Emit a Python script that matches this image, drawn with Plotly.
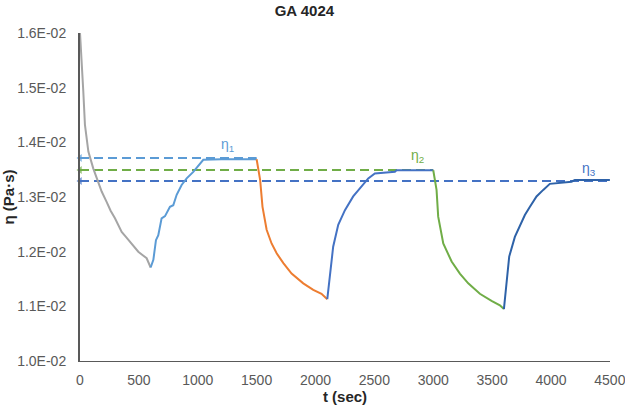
import plotly.graph_objects as go

# Segment data (t in sec, eta in Pa·s)
t_grey = [0, 14, 28, 42, 71, 113, 156, 184, 226, 260, 297, 330, 354, 390, 425, 460, 495, 530, 566, 600]
eta_grey = [0.01600, 0.01554, 0.01493, 0.01432, 0.01383, 0.01352, 0.01328, 0.01310, 0.01291, 0.01275,
            0.01261, 0.01248, 0.01236, 0.01227, 0.01218, 0.01209, 0.01200, 0.01194, 0.01188, 0.01171]

t_lblue = [600, 623, 645, 665, 693, 722, 764, 792, 821, 863, 906, 962, 1047, 1200, 1500]
eta_lblue = [0.01171, 0.01185, 0.01221, 0.01230, 0.01261, 0.01265, 0.01282, 0.01285, 0.01304, 0.01322,
             0.01334, 0.01346, 0.01368, 0.01369, 0.01369]

t_orange = [1500, 1530, 1550, 1585, 1627, 1670, 1727, 1797, 1896, 1981, 2051, 2100]
eta_orange = [0.01369, 0.01331, 0.01282, 0.01240, 0.01215, 0.01197, 0.01179, 0.01160, 0.01142, 0.01130,
              0.01123, 0.01113]

t_blue1 = [2100, 2122, 2150, 2193, 2250, 2320, 2391, 2448, 2504, 2674, 2688, 2850, 3000]
eta_blue1 = [0.01113, 0.01160, 0.01209, 0.01249, 0.01276, 0.01301, 0.01319, 0.01334, 0.01343, 0.01346,
             0.01349, 0.01349, 0.01349]

t_green = [3000, 3028, 3042, 3085, 3156, 3226, 3297, 3396, 3495, 3566, 3600]
eta_green = [0.01349, 0.01313, 0.01264, 0.01215, 0.01182, 0.01160, 0.01142, 0.01123, 0.01110, 0.01102,
             0.01095]

t_blue2 = [3600, 3622, 3645, 3693, 3736, 3778, 3821, 3877, 3934, 3990, 4174, 4202, 4350, 4500]
eta_blue2 = [0.01095, 0.01148, 0.01191, 0.01227, 0.01246, 0.01267, 0.01282, 0.01301, 0.01313, 0.01324,
             0.01328, 0.01331, 0.01331, 0.01331]

# Reference levels
eta_levels = [0.013713, 0.013495, 0.013294]
level_ends = [1500, 3000, 4500]
level_labels = ["η<sub>1</sub>", "η<sub>2</sub>", "η<sub>3</sub>"]
label_t = [1250, 2870, 4320]
label_eta = [0.01395, 0.01375, 0.01351]

y_ticks = [0.010, 0.011, 0.012, 0.013, 0.014, 0.015, 0.016]
y_ticktext = ["1.0E-02", "1.1E-02", "1.2E-02", "1.3E-02", "1.4E-02", "1.5E-02", "1.6E-02"]
x_ticks = [0, 500, 1000, 1500, 2000, 2500, 3000, 3500, 4000, 4500]

level_colors = ["#5B9BD5", "#70AD47", "#4472C4"]
FONT = "Liberation Sans, Arial, sans-serif"

fig = go.Figure()

for i in range(3):
    fig.add_trace(go.Scatter(x=[0, level_ends[i]], y=[eta_levels[i]] * 2, mode="lines+markers",
                             line=dict(color=level_colors[i], width=2, dash="9px,5px"),
                             marker=dict(symbol="triangle-left", size=[7, 0], color=level_colors[i],
                                         line=dict(width=0)),
                             cliponaxis=False,
                             hoverinfo="skip", showlegend=False))

segments = [
    (t_grey, eta_grey, "#A5A5A5"),
    (t_lblue, eta_lblue, "#5B9BD5"),
    (t_orange, eta_orange, "#ED7D31"),
    (t_blue1, eta_blue1, "#4472C4"),
    (t_green, eta_green, "#70AD47"),
    (t_blue2, eta_blue2, "#2E62A8"),
]
for tx, ey, c in segments:
    fig.add_trace(go.Scatter(x=tx, y=ey, mode="lines", line=dict(color=c, width=2),
                             showlegend=False))

annotations = []
for i in range(3):
    annotations.append(dict(x=label_t[i], y=label_eta[i], xref="x", yref="y", showarrow=False,
                            text=level_labels[i],
                            font=dict(family=FONT, size=14, color=level_colors[i])))

fig.update_layout(
    width=625, height=407,
    margin=dict(l=80, r=15, t=33, b=46, autoexpand=False),
    paper_bgcolor="white", plot_bgcolor="white",
    title=dict(text="<b>GA 4024</b>", x=0.487, xanchor="center", y=1 - 10.5 / 407,
               yanchor="middle", font=dict(family=FONT, size=15, color="#262626")),
    font=dict(family=FONT, size=14, color="#595959"),
    annotations=annotations,
    xaxis=dict(range=[0, 4501], tickvals=x_ticks, showgrid=False, zeroline=False,
               showline=True, linecolor="#595959", linewidth=1, ticks="", automargin=False,
               ticklabelstandoff=6, ticklabeloverflow="allow",
               tickfont=dict(family=FONT, size=14, color="#595959"),
               title=dict(text="<b>t (sec)</b>", standoff=4,
                          font=dict(family=FONT, size=15, color="#262626"))),
    yaxis=dict(range=[0.010, 0.016], tickvals=y_ticks, ticktext=y_ticktext, showgrid=False,
               zeroline=False, showline=True, linecolor="#595959", linewidth=2, ticks="",
               automargin=False, ticklabelstandoff=9,
               tickfont=dict(family=FONT, size=14, color="#595959"),
               title=dict(text="<b>η (Pa·s)</b>", standoff=5,
                          font=dict(family=FONT, size=15, color="#262626"))),
)

fig.write_html("out.html", config={"displayModeBar": False},
               post_script="document.body.style.margin='0px';")
